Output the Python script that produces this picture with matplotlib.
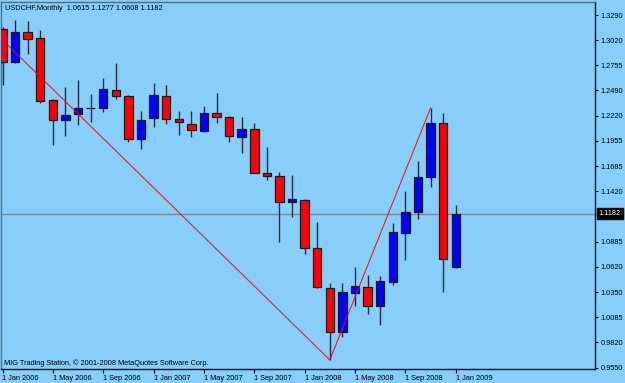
import matplotlib
matplotlib.use("Agg")
import matplotlib.pyplot as plt
import matplotlib.transforms as mtransforms

# ---------------- data ----------------
months = ["Jan 2006", "Feb 2006", "Mar 2006", "Apr 2006", "May 2006", "Jun 2006",
          "Jul 2006", "Aug 2006", "Sep 2006", "Oct 2006", "Nov 2006", "Dec 2006",
          "Jan 2007", "Feb 2007", "Mar 2007", "Apr 2007", "May 2007", "Jun 2007",
          "Jul 2007", "Aug 2007", "Sep 2007", "Oct 2007", "Nov 2007", "Dec 2007",
          "Jan 2008", "Feb 2008", "Mar 2008", "Apr 2008", "May 2008", "Jun 2008",
          "Jul 2008", "Aug 2008", "Sep 2008", "Oct 2008", "Nov 2008", "Dec 2008",
          "Jan 2009"]
opens = [1.3142, 1.2792, 1.3110, 1.3046, 1.2389, 1.2177, 1.2240, 1.2307, 1.2304,
         1.2495, 1.2431, 1.1975, 1.2198, 1.2431, 1.2187, 1.2134, 1.2060, 1.2251,
         1.2208, 1.1996, 1.2081, 1.1614, 1.1583, 1.1307, 1.1328, 1.0819, 1.0395,
         0.9928, 1.0342, 1.0406, 1.0204, 1.0459, 1.0979, 1.1201, 1.1572, 1.2145,
         1.0615]
highs = [1.3163, 1.3237, 1.3226, 1.3131, 1.2395, 1.2526, 1.2601, 1.2452, 1.2622,
         1.2781, 1.2440, 1.2272, 1.2569, 1.2548, 1.2272, 1.2272, 1.2325, 1.2463,
         1.2219, 1.2208, 1.2145, 1.1890, 1.1625, 1.1593, 1.1335, 1.1095, 1.0448,
         1.0448, 1.0618, 1.0533, 1.0522, 1.1084, 1.1424, 1.1742, 1.2304, 1.2251,
         1.1277]
lows = [1.2548, 1.2781, 1.2876, 1.2357, 1.1911, 1.2007, 1.2123, 1.2155, 1.2261,
        1.2399, 1.1943, 1.1869, 1.2102, 1.2134, 1.2017, 1.1996, 1.2049, 1.2145,
        1.1943, 1.1827, 1.1610, 1.1540, 1.0883, 1.1148, 1.0756, 1.0395, 0.9632,
        0.9875, 1.0204, 1.0119, 1.0003, 1.0427, 1.0692, 1.1127, 1.1466, 1.0353,
        1.0608]
closes = [1.2792, 1.3110, 1.3035, 1.2378, 1.2177, 1.2230, 1.2304, 1.2307, 1.2505,
          1.2431, 1.1975, 1.2177, 1.2442, 1.2187, 1.2155, 1.2070, 1.2251, 1.2208,
          1.2007, 1.2081, 1.1614, 1.1583, 1.1307, 1.1339, 1.0819, 1.0406, 0.9928,
          1.0353, 1.0416, 1.0204, 1.0469, 1.0989, 1.1201, 1.1572, 1.2145, 1.0703,
          1.1182]

# zigzag turning points (bar index relative to Jan 2006, price)
zigzag_index = [-2, 26, 34]
zigzag_price = [1.3286, 0.9632, 1.2304]

date_tick_index = [0, 4, 8, 12, 16, 20, 24, 28, 32, 36]
date_tick_labels = ["1 Jan 2006", "1 May 2006", "1 Sep 2006", "1 Jan 2007",
                    "1 May 2007", "1 Sep 2007", "1 Jan 2008", "1 May 2008",
                    "1 Sep 2008", "1 Jan 2009"]
price_ticks = [1.3290, 1.3020, 1.2755, 1.2490, 1.2220, 1.1955, 1.1685, 1.1420,
               1.0885, 1.0620, 1.0350, 1.0085, 0.9820, 0.9550]
price_tick_labels = ["1.3290", "1.3020", "1.2755", "1.2490", "1.2220", "1.1955",
                     "1.1685", "1.1420", "1.0885", "1.0620", "1.0350", "1.0085",
                     "0.9820", "0.9550"]
last_price = 1.1182
header = "USDCHF,Monthly  1.0615 1.1277 1.0608 1.1182"
footer = "MIG Trading Station, \u00a9 2001-2008 MetaQuotes Software Corp."

# ---------------- style ----------------
BG = "#87CEFA"
UP = "#0000FF"
DOWN = "#FF0000"
WICK = "#22303c"
EDGE = "#1a1a1a"
FONT = "Liberation Sans"
FS = 5.3

W, H = 625, 383
fig = plt.figure(figsize=(W / 100, H / 100), dpi=100, facecolor=BG)
left_px, right_px, top_px, bottom_px = 1, 595, 2, 369
ax = fig.add_axes([left_px / W, 1 - bottom_px / H,
                   (right_px - left_px) / W, (bottom_px - top_px) / H])
ax.set_facecolor(BG)

xs = list(range(len(months)))
body_w = 0.67

# wicks
ax.vlines(xs, lows, highs, color=WICK, linewidth=1.0, zorder=3)
# bodies
for x, o, c in zip(xs, opens, closes):
    col = UP if c > o else DOWN
    lo, hi = min(o, c), max(o, c)
    ax.bar(x, hi - lo, bottom=lo, width=body_w, color=col,
           edgecolor=EDGE, linewidth=0.9, zorder=4)

# zigzag
ax.plot(zigzag_index, zigzag_price, color="#FF0000", linewidth=0.8, zorder=5,
        alpha=0.85)

# current price line
ax.axhline(last_price, color="#778899", linewidth=1.0, zorder=2)

# limits (pixel calibrated)
px_per_unit = 943.0
bar_px = 12.59
x0_px = 2.5
ax.set_xlim((left_px - x0_px) / bar_px, (right_px - x0_px) / bar_px)
ax.set_ylim(0.9550 - (bottom_px - 367.7) / px_per_unit,
            1.3290 + (15 - top_px) / px_per_unit)

# axes ticks
ax.yaxis.tick_right()
ax.set_yticks(price_ticks)
ax.set_yticklabels(price_tick_labels, fontsize=FS, family=FONT)
ax.tick_params(axis="y", direction="out", length=2.5, width=0.8, pad=1.5,
               colors="black")
ax.set_xticks(date_tick_index)
ax.set_xticklabels(date_tick_labels, fontsize=FS, family=FONT, ha="left")
ax.tick_params(axis="x", direction="out", length=3, width=0.8, pad=1.2,
               colors="black")
for lab in ax.get_xticklabels():
    lab.set_horizontalalignment("left")

for s in ("left", "top"):
    ax.spines[s].set_color("#4f6f88")
    ax.spines[s].set_linewidth(1.0)
for s in ("right", "bottom"):
    ax.spines[s].set_color("#111111")
    ax.spines[s].set_linewidth(1.0)

# last price label
trans = mtransforms.blended_transform_factory(ax.transAxes, ax.transData)
ax.text(1.006, last_price, "1.1182", transform=trans, fontsize=FS, family=FONT,
        color="white", ha="left", va="center", zorder=10, clip_on=False,
        bbox=dict(boxstyle="square,pad=0.25", facecolor="black",
                  edgecolor="black"))

# header and footer
fig.text(5 / W, 1 - 8.5 / H, header, fontsize=FS, family=FONT, color="black",
         ha="left", va="center")
fig.text(4 / W, 1 - 363.5 / H, footer, fontsize=FS, family=FONT, color="black",
         ha="left", va="center")

fig.savefig("out.png", dpi=100, facecolor=BG)
